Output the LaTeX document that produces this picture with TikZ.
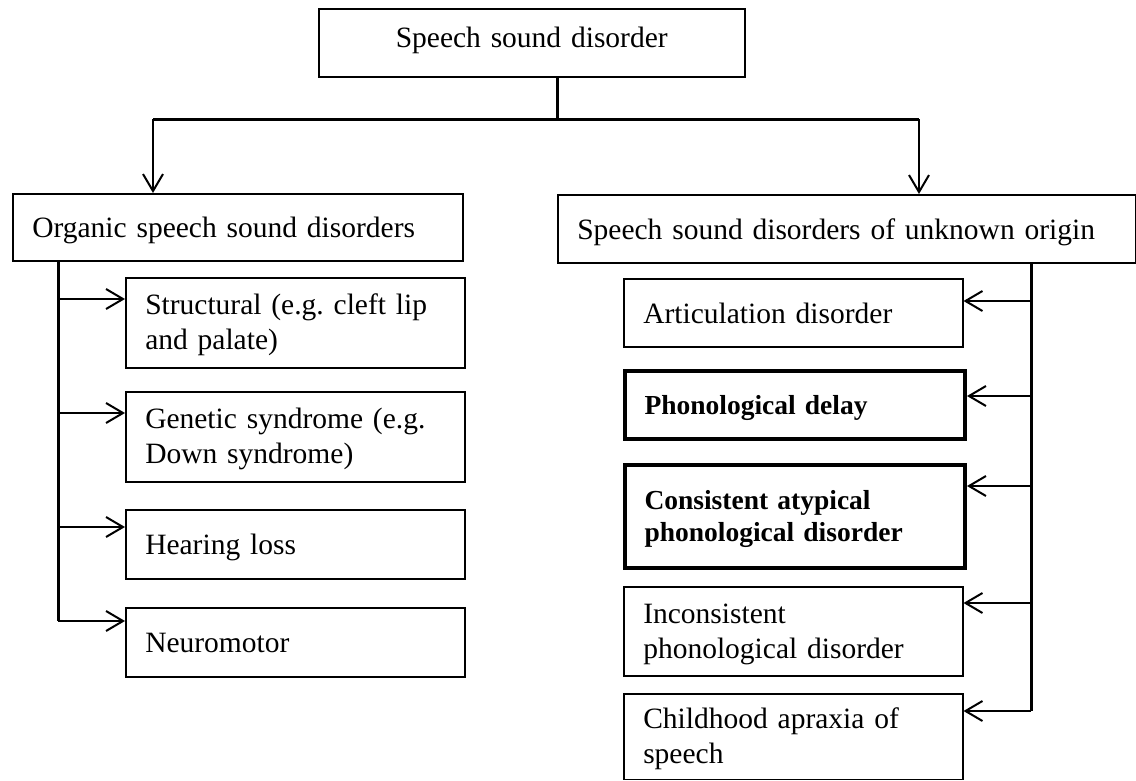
\documentclass[tikz,border=0pt]{standalone}
\usepackage{fontspec}
\setmainfont{Liberation Serif}
\usetikzlibrary{arrows.meta}
\begin{document}
\frenchspacing
\begin{tikzpicture}[x=1pt,y=-1pt,
  box/.style={draw, line width=1.5pt, rectangle, anchor=north west, inner xsep=19.5pt, inner ysep=0pt,
    align=left, font=\fontsize{29.5}{35}\selectfont\frenchspacing},
  boldbox/.style={box, line width=4pt, font=\fontsize{27.5}{32}\selectfont\bfseries\frenchspacing},
  one/.style={text height=21pt, text depth=0pt},
  two/.style={text height=19pt, text depth=35pt},
  twob/.style={text height=18pt, text depth=32pt},
  spine/.style={line width=3pt},
  arr/.style={line width=2pt, -{Straight Barb[length=17pt,width=20pt,line width=2pt]}}
]
\useasboundingbox (0,0) rectangle (1136,780);

% boxes
\node[box, align=center, minimum width=426pt, minimum height=68pt, text width=387pt,
      text height=21pt, text depth=11.6pt] (top) at (318,8) {Speech sound disorder};
\node[box, one, minimum width=450pt, minimum height=67pt, text width=411pt] (lhead) at (12,193) {Organic speech sound disorders};
\node[box, one, minimum width=578pt, minimum height=68pt, text width=539pt] (rhead) at (557,194) {Speech sound disorders of unknown origin};

\node[box, two, minimum width=339pt, minimum height=90pt, text width=300pt] (s1) at (125,277) {Structural (e.g. cleft lip\\and palate)};
\node[box, two, minimum width=339pt, minimum height=90pt, text width=300pt] (s2) at (125,391) {Genetic syndrome (e.g.\\Down syndrome)};
\node[box, one, minimum width=339pt, minimum height=69pt, text width=300pt] (s3) at (125,509) {Hearing loss};
\node[box, one, minimum width=339pt, minimum height=69pt, text width=300pt] (s4) at (125,607) {Neuromotor};

\node[box, one, minimum width=339pt, minimum height=68pt, text width=300pt] (u1) at (623,278) {Articulation disorder};
\node[boldbox, text height=19pt, text depth=0pt, minimum width=340pt, minimum height=68pt, text width=301pt] (u2) at (623,369) {Phonological delay};
\node[boldbox, twob, minimum width=340pt, minimum height=103pt, text width=301pt] (u3) at (623,463) {Consistent atypical\\phonological disorder};
\node[box, two, minimum width=339pt, minimum height=89pt, text width=300pt] (u4) at (623,586) {Inconsistent\\phonological disorder};
\node[box, two, minimum width=339pt, minimum height=85.5pt, text width=300pt] (u5) at (623,693) {Childhood apraxia of\\speech};

% top connectors
\coordinate (j) at (557,119);
\coordinate (lj) at (153,119);
\coordinate (rj) at (919,119);
\draw[spine] (top.south -| j) -- (j);
\draw[spine] (lj) -- (rj);
\draw[arr] (lj) -- (lj |- lhead.north);
\draw[arr] (rj) -- (rj |- rhead.north);

% left branch
\coordinate (ls) at (58,0);
\coordinate (a1) at ([yshift=-22pt]s1.north west);
\coordinate (a2) at ([yshift=-22pt]s2.north west);
\coordinate (a3) at ([yshift=-18pt]s3.north west);
\coordinate (a4) at ([yshift=-14pt]s4.north west);
\draw[spine] (lhead.south -| ls) -- (a4 -| ls);
\foreach \a in {a1,a2,a3,a4} \draw[arr] (\a -| ls) -- (\a);

% right branch
\coordinate (rs) at (1031,0);
\coordinate (b1) at ([yshift=-23pt]u1.north east);
\coordinate (b2) at ([yshift=-27pt]u2.north east);
\coordinate (b3) at ([yshift=-23pt]u3.north east);
\coordinate (b4) at ([yshift=-17pt]u4.north east);
\coordinate (b5) at ([yshift=-18pt]u5.north east);
\draw[spine] (rhead.south -| rs) -- (b5 -| rs);
\foreach \b in {b1,b2,b3,b4,b5} \draw[arr] (\b -| rs) -- (\b);
\end{tikzpicture}
\end{document}
